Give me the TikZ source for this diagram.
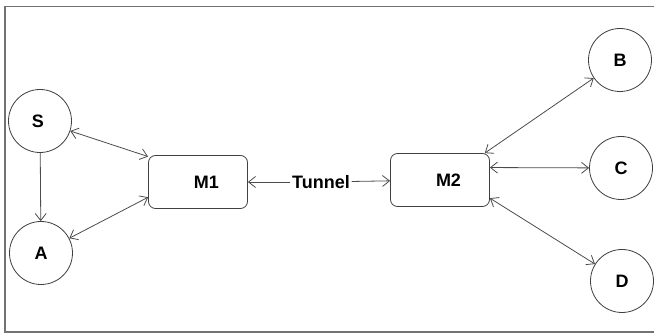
\documentclass[tikz,border=0pt]{standalone}
\usepackage{fontspec}
\setmainfont{Liberation Sans}
\usetikzlibrary{arrows.meta}
\tikzset{vtip/.tip={Straight Barb[length=7pt,width=11pt]}}
\begin{document}
\begin{tikzpicture}[x=1pt,y=-1pt,
  txt/.style={font=\fontsize{18}{20}\selectfont\bfseries},
  circ/.style={txt, draw=black!75, line width=0.8pt, circle, minimum size=63pt, inner sep=0pt},
  box/.style={txt, draw=black!75, line width=0.8pt, rectangle, rounded corners=7pt, minimum width=99pt, minimum height=53pt, inner sep=0pt},
  lbl/.style={txt, inner sep=1.5pt},
  conn/.style={draw=black!70, line width=0.8pt}
]
\useasboundingbox (0,0) rectangle (654,336);
\draw[black!55, line width=1.6pt] (680,6.5) -- (5,6.5) -- (5,332) -- (680,332);
\node[circ] (S) at (40,121) {\hspace*{-4pt}S};
\node[circ] (A) at (41,253) {A};
\node[box] (M1) at (198,182) {\hspace*{17pt}M1};
\node[box] (M2) at (440,180) {\hspace*{17pt}M2};
\node[circ] (B) at (620,60) {B};
\node[circ] (C) at (621,168) {C};
\node[circ] (D) at (622,281) {D};
\node[lbl] (T) at (321,182) {Tunnel};
\draw[conn, -{vtip}] (S) -- (A);
\draw[conn, {vtip}-{vtip}] (S) -- (M1.153);
\draw[conn, {vtip}-{vtip}] (A) -- (M1.197);
\draw[conn, -{vtip}] (T) -- (M1);
\draw[conn, -{vtip}] (T) -- (M2);
\draw[conn, {vtip}-{vtip}] (M2.31.5) -- (B);
\draw[conn, {vtip}-{vtip}] (M2.14) -- (C);
\draw[conn, {vtip}-{vtip}] (M2.-20) -- (D);
\end{tikzpicture}
\end{document}
